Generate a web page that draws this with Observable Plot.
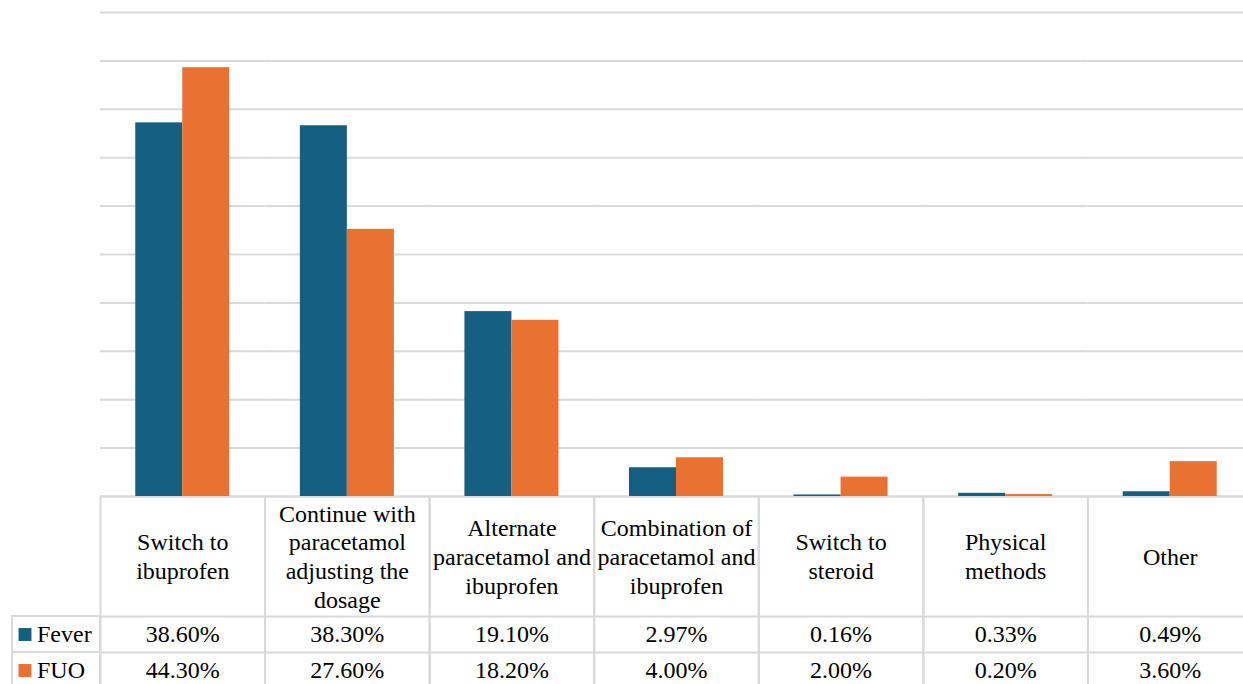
<!DOCTYPE html>
<html>
<head>
<meta charset="utf-8">
<script src="https://cdn.jsdelivr.net/npm/d3@7"></script>
<script src="https://cdn.jsdelivr.net/npm/@observablehq/plot@0.6"></script>
<style>
  html, body { margin: 0; padding: 0; background: #fff; overflow: hidden; }
  #wrap { position: relative; width: 1260px; height: 700px; }
  #wrap svg { display: block; }
  #wrap svg.legend-col { position: absolute; left: 0; top: 0; }
</style>
</head>
<body>
<div id="wrap"></div>
<script>
// Antipyretic strategy when paracetamol is not effective: share of respondents (%)
const categories = [
  "Switch to\nibuprofen",
  "Continue with\nparacetamol\nadjusting the\ndosage",
  "Alternate\nparacetamol and\nibuprofen",
  "Combination of\nparacetamol and\nibuprofen",
  "Switch to\nsteroid",
  "Physical\nmethods",
  "Other"
];
const series = ["Fever", "FUO"];
const fever = [38.60, 38.30, 19.10, 2.97, 0.16, 0.33, 0.49];
const fuo = [44.30, 27.60, 18.20, 4.00, 2.00, 0.20, 3.60];
const colors = ["#156082", "#E97132"];
const gridTicks = [0, 5, 10, 15, 20, 25, 30, 35, 40, 45, 50];

const valuesBySeries = {Fever: fever, FUO: fuo};
const rows = categories.flatMap((c, i) =>
  series.map(s => ({category: c, series: s, value: valuesBySeries[s][i]}))
);

// layout of the chart and of the data table below it
const W = 1260, H = 700;
const plotTop = 12, baseY = 496;           // frame of the bars
const headerH = 120, rowH = 36;             // table rows
const tableLeft = 12, plotLeft = 100;
const serif = "\"Liberation Serif\", \"Times New Roman\", Tinos, \"DejaVu Serif\", \"Noto Serif\", serif";
const grid = "#d9d9d9";
const pct = v => v.toFixed(2) + "%";

const chart = Plot.plot({
  width: W,
  height: H,
  marginTop: plotTop,
  marginBottom: H - baseY,
  marginLeft: plotLeft,
  marginRight: W - 1252,
  style: {fontFamily: serif, background: "white"},
  facet: {data: rows, x: "category"},
  fx: {domain: categories, padding: 0, round: false, axis: null},
  x: {domain: series, paddingInner: 0, paddingOuter: 0.75, round: false, axis: null},
  y: {domain: [0, 50], axis: null},
  color: {domain: series, range: colors},
  marks: [
    // horizontal gridlines every 5%
    Plot.ruleY(gridTicks, {stroke: grid, strokeWidth: 2}),
    // table cell borders, one box per category column
    Plot.frame({stroke: grid, strokeWidth: 2, insetTop: baseY - plotTop, insetBottom: -(H - baseY)}),
    Plot.ruleY([0], {stroke: grid, strokeWidth: 2, dy: headerH}),
    Plot.ruleY([0], {stroke: grid, strokeWidth: 2, dy: headerH + rowH}),
    Plot.ruleY([0], {stroke: grid, strokeWidth: 2, dy: headerH + 2 * rowH}),
    // grouped bars
    Plot.barY(rows, {x: "series", y: "value", fill: "series"}),
    // category names in the table header
    Plot.text(rows, {
      filter: d => d.series === "Fever",
      text: "category",
      frameAnchor: "bottom", dy: headerH / 2 - 1,
      lineAnchor: "middle", lineHeight: 1.2,
      fontFamily: serif, fontSize: 24, fill: "#000"
    }),
    // value rows
    ...series.map((s, r) => Plot.text(rows, {
      filter: d => d.series === s,
      text: d => pct(d.value),
      frameAnchor: "bottom", dy: headerH + rowH * (r + 0.5),
      lineAnchor: "middle",
      fontFamily: serif, fontSize: 24, fill: "#000"
    }))
  ]
});

// row labels with colour keys, in the left column of the table
const legendCol = Plot.plot({
  className: "legend-col",
  width: plotLeft,
  height: H,
  marginLeft: tableLeft,
  marginRight: 0,
  marginTop: baseY + headerH,
  marginBottom: H - (baseY + headerH + 2 * rowH),
  style: {fontFamily: serif, background: "transparent"},
  y: {domain: series, padding: 0, round: false, axis: null},
  color: {domain: series, range: colors},
  marks: [
    Plot.cell(series, {y: d => d, fill: "none", stroke: grid, strokeWidth: 2}),
    Plot.dot(series, {y: d => d, fill: d => d, symbol: "square", r: 7.3, frameAnchor: "left", dx: 12.5}),
    Plot.text(series, {y: d => d, text: d => d, frameAnchor: "left", dx: 24.5, textAnchor: "start",
      fontFamily: serif, fontSize: 24, fill: "#000"})
  ]
});

const wrap = document.getElementById("wrap");
wrap.appendChild(chart);
wrap.appendChild(legendCol);
</script>
</body>
</html>
